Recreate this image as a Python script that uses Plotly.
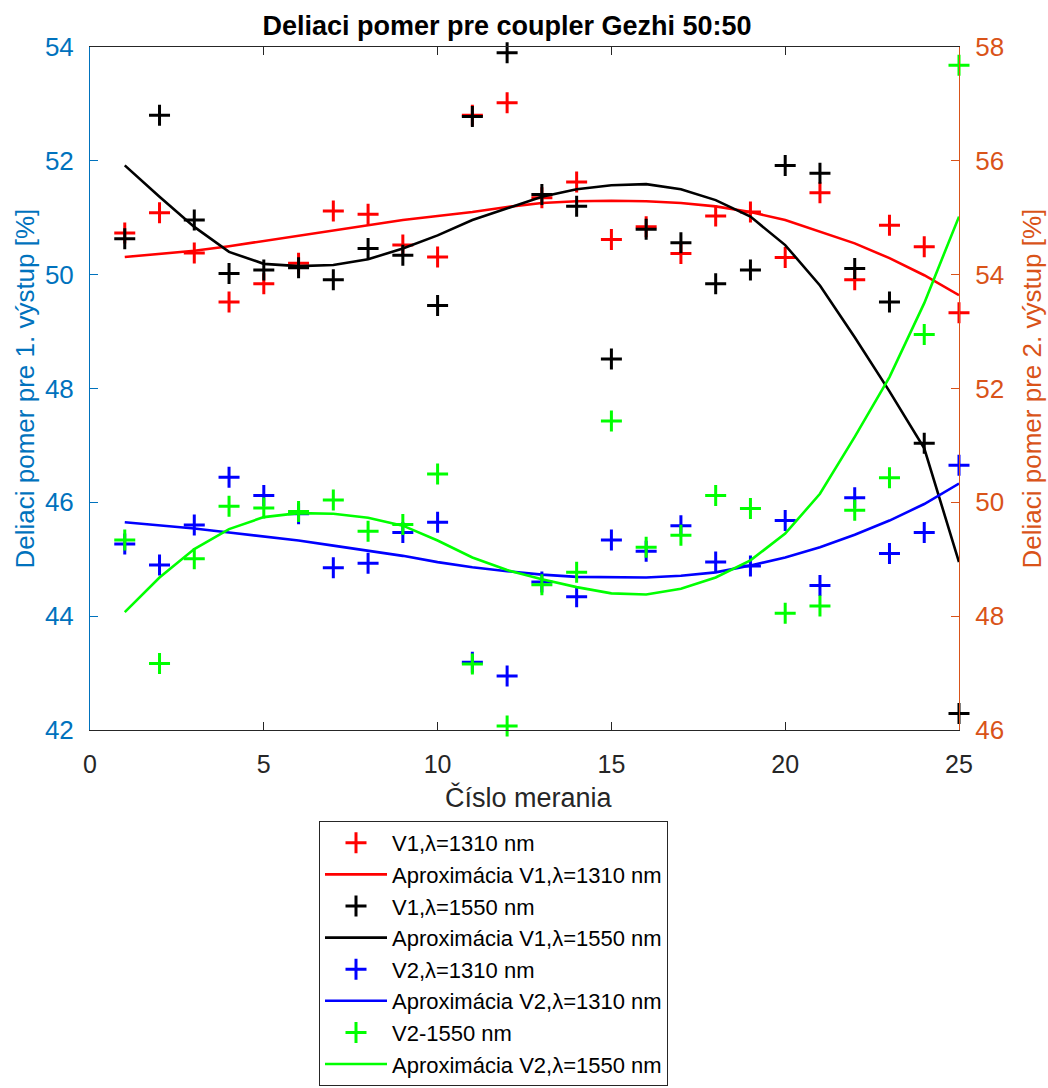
import plotly.graph_objects as go

x_meas = list(range(1, 26))

v1_1310 = [50.73, 51.09, 50.38, 49.52, 49.84, 50.20, 51.12, 51.06, 50.52, 50.31,
           52.80, 53.02, 51.35, 51.63, 50.62, 50.84, 50.37, 51.03, 51.10, 50.30,
           51.44, 49.91, 50.87, 50.49, 49.33]
v1_1550 = [50.63, 52.80, 50.96, 50.02, 50.08, 50.12, 49.91, 50.46, 50.34, 49.46,
           52.78, 53.90, 51.41, 51.20, 48.52, 50.80, 50.56, 49.84, 50.08, 51.92,
           51.78, 50.11, 49.52, 47.04, 42.29]
v2_1310 = [49.27, 48.90, 49.60, 50.44, 50.12, 49.80, 48.85, 48.93, 49.47, 49.65,
           47.19, 46.95, 48.60, 48.34, 49.34, 49.14, 49.59, 48.95, 48.88, 49.68,
           48.54, 50.08, 49.10, 49.47, 50.65]
v2_1550 = [49.34, 47.17, 49.01, 49.93, 49.90, 49.84, 50.04, 49.49, 49.61, 50.50,
           47.16, 46.07, 48.55, 48.77, 51.43, 49.21, 49.42, 50.12, 49.89, 48.05,
           48.18, 49.86, 50.43, 52.95, 57.68]

fit_v1_1310 = [50.31, 50.36, 50.42, 50.50, 50.59, 50.68, 50.77, 50.87, 50.96, 51.03,
               51.10, 51.19, 51.26, 51.29, 51.30, 51.29, 51.26, 51.20, 51.10, 50.96,
               50.76, 50.55, 50.29, 49.99, 49.64]
fit_v1_1550 = [51.92, 51.37, 50.84, 50.40, 50.19, 50.15, 50.17, 50.27, 50.46, 50.69,
               50.96, 51.16, 51.37, 51.50, 51.57, 51.59, 51.50, 51.31, 51.02, 50.52,
               49.81, 48.90, 47.95, 46.95, 44.95]
fit_v2_1310 = [49.65, 49.60, 49.54, 49.47, 49.40, 49.33, 49.24, 49.15, 49.06, 48.95,
               48.86, 48.79, 48.73, 48.69, 48.68, 48.68, 48.71, 48.77, 48.89, 49.03,
               49.21, 49.43, 49.68, 49.97, 50.33]
fit_v2_1550 = [48.07, 48.68, 49.18, 49.53, 49.74, 49.81, 49.80, 49.73, 49.59, 49.33,
               49.03, 48.81, 48.65, 48.51, 48.40, 48.38, 48.48, 48.68, 48.98, 49.45,
               50.15, 51.15, 52.20, 53.50, 55.02]

names = ["V1,λ=1310 nm", "Aproximácia V1,λ=1310 nm",
         "V1,λ=1550 nm", "Aproximácia V1,λ=1550 nm",
         "V2,λ=1310 nm", "Aproximácia V2,λ=1310 nm",
         "V2-1550 nm", "Aproximácia V2,λ=1550 nm"]

title_text = "Deliaci pomer pre coupler Gezhi 50:50"
xlabel = "Číslo merania"
ylabel_left = "Deliaci pomer pre 1. výstup [%]"
ylabel_right = "Deliaci pomer pre 2. výstup [%]"

C_RED = "#FF0000"
C_BLK = "#000000"
C_BLU = "#0000FF"
C_GRN = "#00FF00"
C_LEFT = "#0072BD"
C_RIGHT = "#D95319"
C_AX = "#262626"
FONT = "Liberation Sans, Arial, Helvetica, sans-serif"

W, H = 1048, 1088
L, R, T, B = 90, 89, 47, 358
PW = W - L - R
PH = H - T - B

fig = go.Figure()


def pts(y, name, color, axis, grp):
    fig.add_trace(go.Scatter(
        x=x_meas, y=y, name=name, mode="markers", yaxis=axis, legendgroup=grp,
        marker=dict(symbol="cross-thin", size=15, color=color,
                    line=dict(width=3, color=color)),
        cliponaxis=False))


def fit(y, name, color, axis, grp):
    fig.add_trace(go.Scatter(
        x=x_meas, y=y, name=name, mode="lines", yaxis=axis, legendgroup=grp,
        line=dict(color=color, width=2.6)))


pts(v1_1310, names[0], C_RED, "y", "g1")
fit(fit_v1_1310, names[1], C_RED, "y", "g2")
pts(v1_1550, names[2], C_BLK, "y", "g3")
fit(fit_v1_1550, names[3], C_BLK, "y", "g4")
pts(v2_1310, names[4], C_BLU, "y2", "g5")
fit(fit_v2_1310, names[5], C_BLU, "y2", "g6")
pts(v2_1550, names[6], C_GRN, "y2", "g7")
fit(fit_v2_1550, names[7], C_GRN, "y2", "g8")


def px_x(px):
    return (px - L) / PW


def px_y(py):
    return (H - B - py) / PH


annotations = [
    dict(text=xlabel, x=px_x(529), y=px_y(797), xref="paper", yref="paper",
         xanchor="center", yanchor="middle", showarrow=False,
         font=dict(size=27, color=C_AX, family=FONT)),
    dict(text=ylabel_left, x=px_x(24), y=0.5, xref="paper", yref="paper",
         xanchor="center", yanchor="middle", showarrow=False, textangle=-90,
         font=dict(size=26, color=C_LEFT, family=FONT)),
    dict(text=ylabel_right, x=px_x(1031), y=0.5, xref="paper", yref="paper",
         xanchor="center", yanchor="middle", showarrow=False, textangle=-90,
         font=dict(size=26, color=C_RIGHT, family=FONT)),
]

fig.update_layout(
    width=W, height=H,
    margin=dict(l=L, r=R, t=T, b=B, pad=0, autoexpand=False),
    paper_bgcolor="white", plot_bgcolor="white",
    font=dict(family=FONT, color=C_AX),
    title=dict(text="<b>" + title_text + "</b>",
               font=dict(size=27, color="#000000", family=FONT),
               x=px_x(507), xref="paper", xanchor="center",
               y=1 - 26 / H, yref="container", yanchor="middle"),
    annotations=annotations,
    xaxis=dict(range=[0, 25], dtick=5, tick0=0, automargin=False,
               showgrid=False, zeroline=False,
               showline=True, linecolor=C_AX, linewidth=1, mirror="ticks",
               ticks="inside", ticklen=8, tickcolor=C_AX,
               ticklabelstandoff=12,
               tickfont=dict(size=25, color=C_AX)),
    yaxis=dict(range=[42, 54], dtick=2, tick0=42, automargin=False,
               showgrid=False, zeroline=False,
               showline=True, linecolor=C_LEFT, linewidth=1,
               ticks="inside", ticklen=8, tickcolor=C_LEFT,
               ticklabelstandoff=10,
               tickfont=dict(size=26, color=C_LEFT)),
    yaxis2=dict(range=[46, 58], dtick=2, tick0=46, overlaying="y", side="right",
                automargin=False,
                showgrid=False, zeroline=False,
                showline=True, linecolor=C_RIGHT, linewidth=1,
                ticks="inside", ticklen=8, tickcolor=C_RIGHT,
                ticklabelstandoff=10,
                tickfont=dict(size=26, color=C_RIGHT)),
    legend=dict(x=319 / W, xref="container", xanchor="left",
                y=1 - 821 / H, yref="container", yanchor="top",
                bgcolor="white", bordercolor=C_AX, borderwidth=1,
                font=dict(size=22, color="#000000", family=FONT),
                traceorder="grouped", tracegroupgap=0, itemwidth=62),
    showlegend=True,
)

fig.write_html("out.html",
               config={"displayModeBar": False},
               post_script="document.body.style.margin='0';document.body.style.padding='0';")
